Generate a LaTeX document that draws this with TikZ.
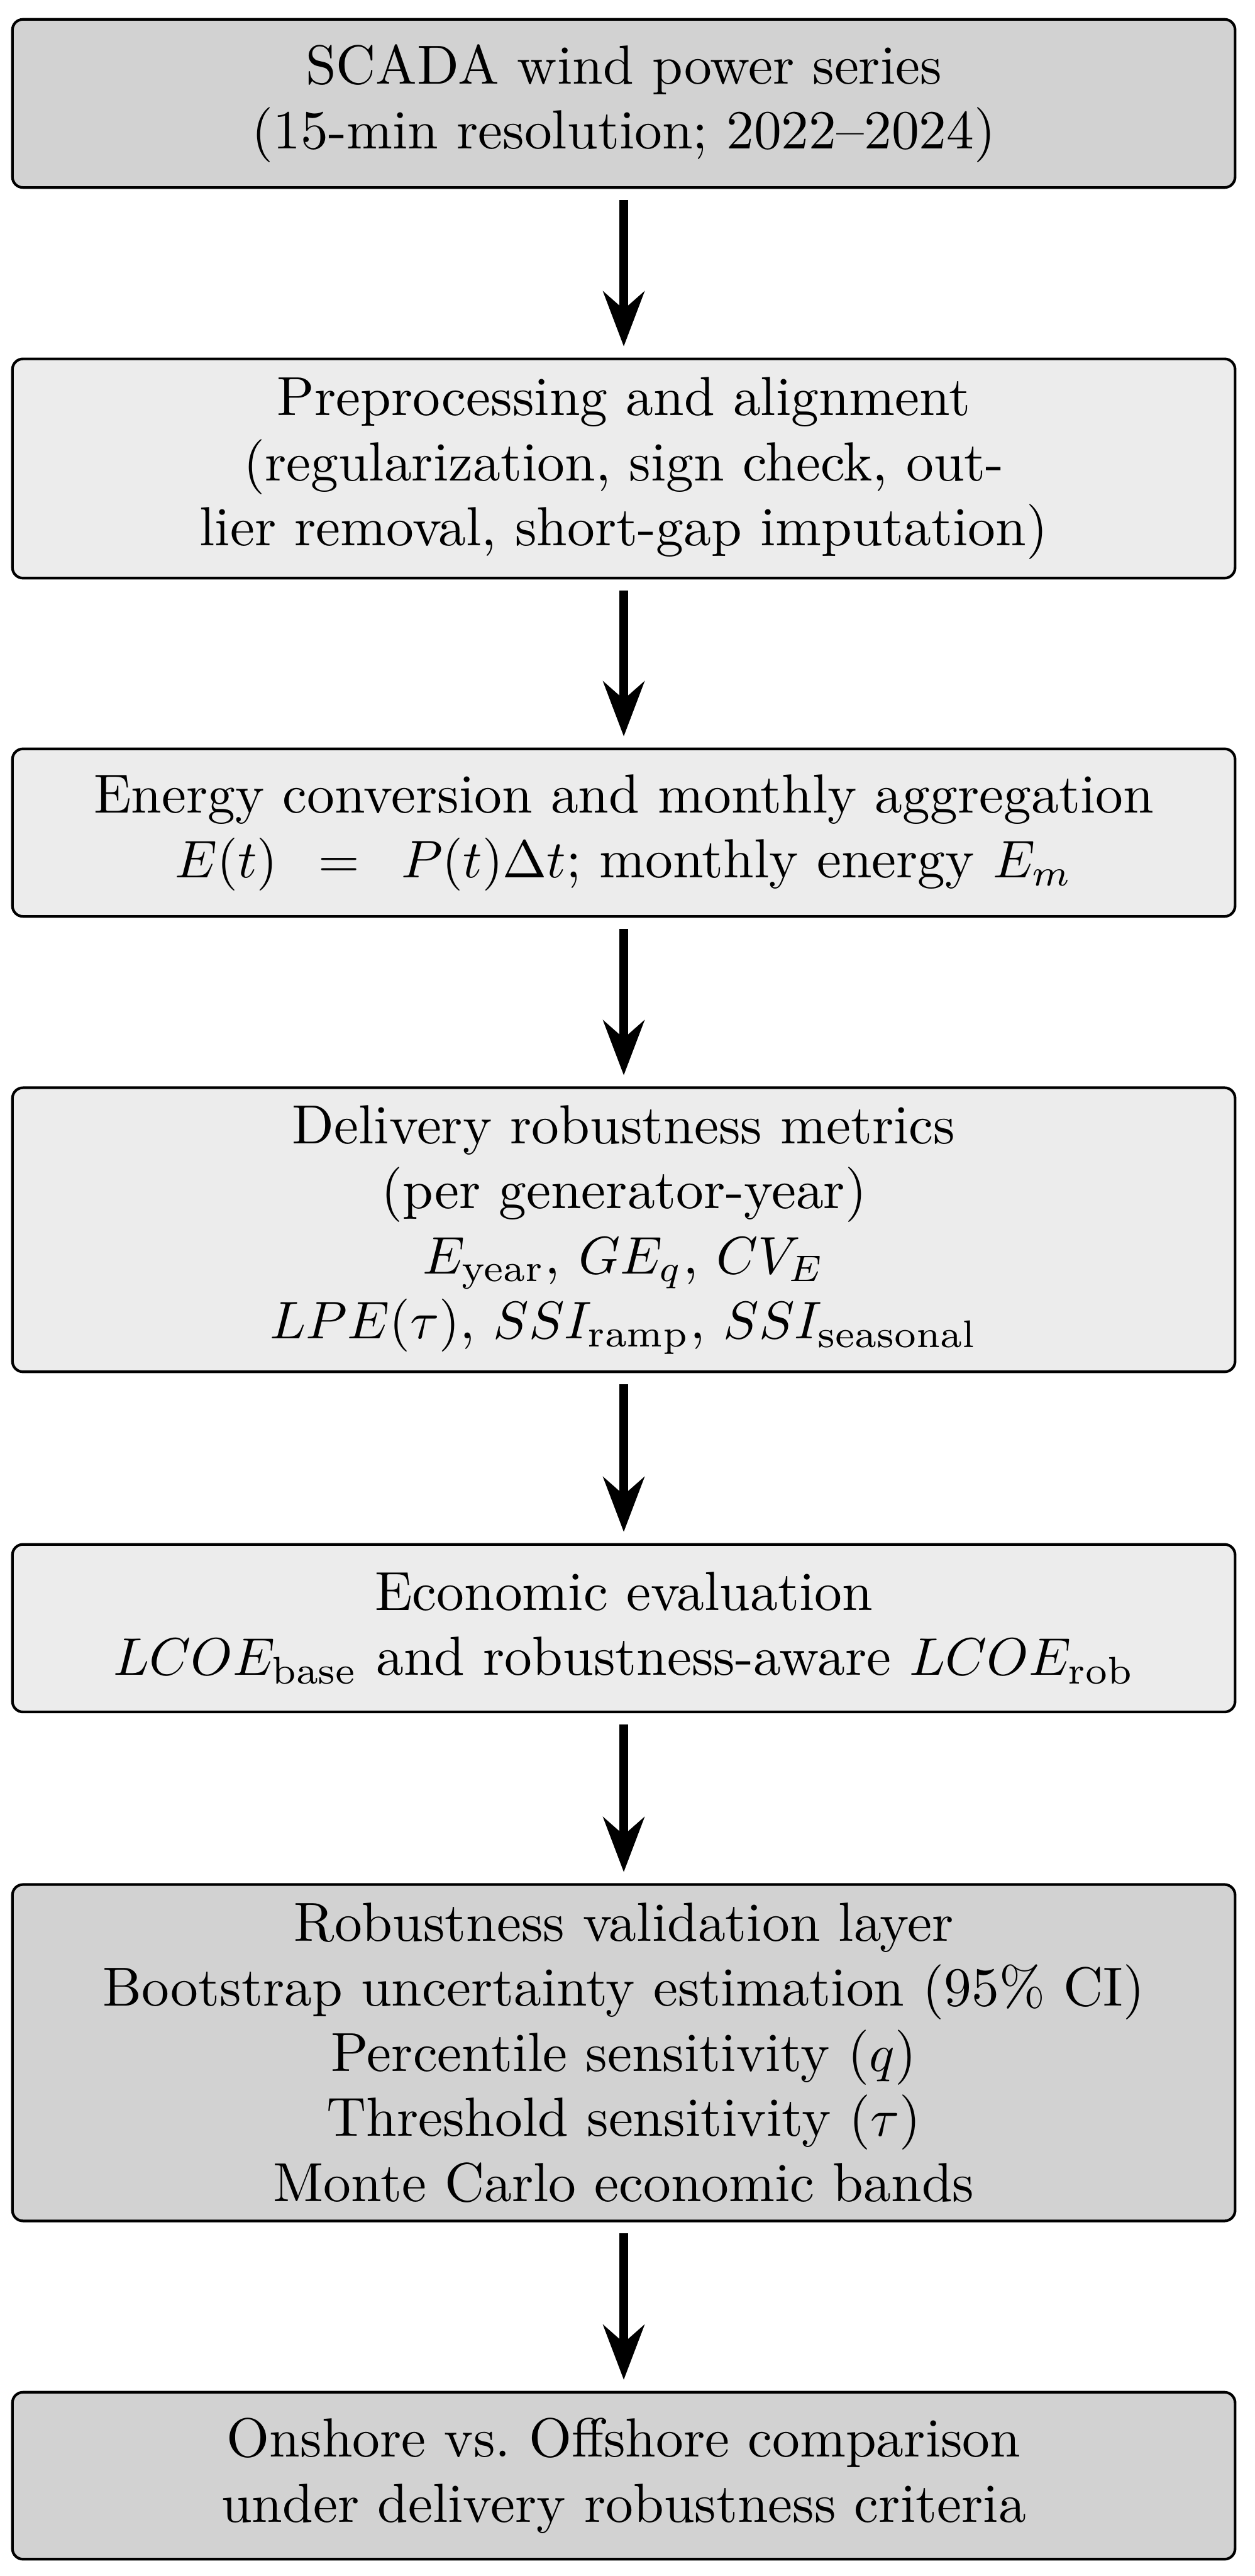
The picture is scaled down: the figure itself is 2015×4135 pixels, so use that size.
\documentclass[tikz,border=0pt]{standalone}
\usepackage{amsmath}
\usetikzlibrary{arrows.meta}
\tikzset{
  flowbox/.style={draw, line width=0.5pt, rounded corners=2pt, outer sep=0pt,
    inner sep=0pt, minimum width=230.95pt, align=center,
    font=\fontsize{10.4}{12.3}\selectfont},
  darkbox/.style={flowbox, fill=gray!35},
  lightbox/.style={flowbox, fill=gray!15},
  flowarrow/.style={line width=1.6pt, -{Stealth[length=10.35pt,width=7.76pt]},
    shorten <=2.35pt, shorten >=2.35pt}
}
\begin{document}
\begin{tikzpicture}[x=0.11765pt, y=-0.11765pt]
\useasboundingbox (0,0) rectangle (2015,4135);
\node[darkbox, minimum height=31.76pt] (b1) at (1001.5,166)
  {SCADA wind power series\\(15-min resolution; 2022--2024)};
\node[lightbox, minimum height=41.41pt] (b2) at (1001.5,752)
  {Preprocessing and alignment\\(regularization, sign check, out-\\lier removal, short-gap imputation)};
\node[lightbox, minimum height=31.65pt] (b3) at (1001.5,1336.5)
  {Energy conversion and monthly aggregation\\$E(t)\mskip14mu{=}\mskip14mu P(t)\Delta t$; monthly energy $E_m$};
\node[lightbox, minimum height=53.65pt] (b4) at (1001.5,1974)
  {Delivery robustness metrics\\(per generator-year)\\$E_{\text{year}}$, $GE_q$, $CV_E$\\$LPE(\tau)$, $SSI_{\text{ramp}}$, $SSI_{\text{seasonal}}$};
\node[lightbox, minimum height=31.65pt] (b5) at (1001.5,2613.5)
  {Economic evaluation\\$LCOE_{\text{base}}$ and robustness-aware $LCOE_{\text{rob}}$};
\node[darkbox, minimum height=63.53pt] (b6) at (1001.5,3295)
  {Robustness validation layer\\Bootstrap uncertainty estimation (95\% CI)\\Percentile sensitivity ($q$)\\Threshold sensitivity ($\tau$)\\Monte Carlo economic bands};
\node[darkbox, minimum height=31.53pt] (b7) at (1001.5,3974)
  {Onshore vs.\ Offshore comparison\\under delivery robustness criteria};
\draw[flowarrow] (b1.south) -- (b2.north);
\draw[flowarrow] (b2.south) -- (b3.north);
\draw[flowarrow] (b3.south) -- (b4.north);
\draw[flowarrow] (b4.south) -- (b5.north);
\draw[flowarrow] (b5.south) -- (b6.north);
\draw[flowarrow] (b6.south) -- (b7.north);
\end{tikzpicture}
\end{document}
